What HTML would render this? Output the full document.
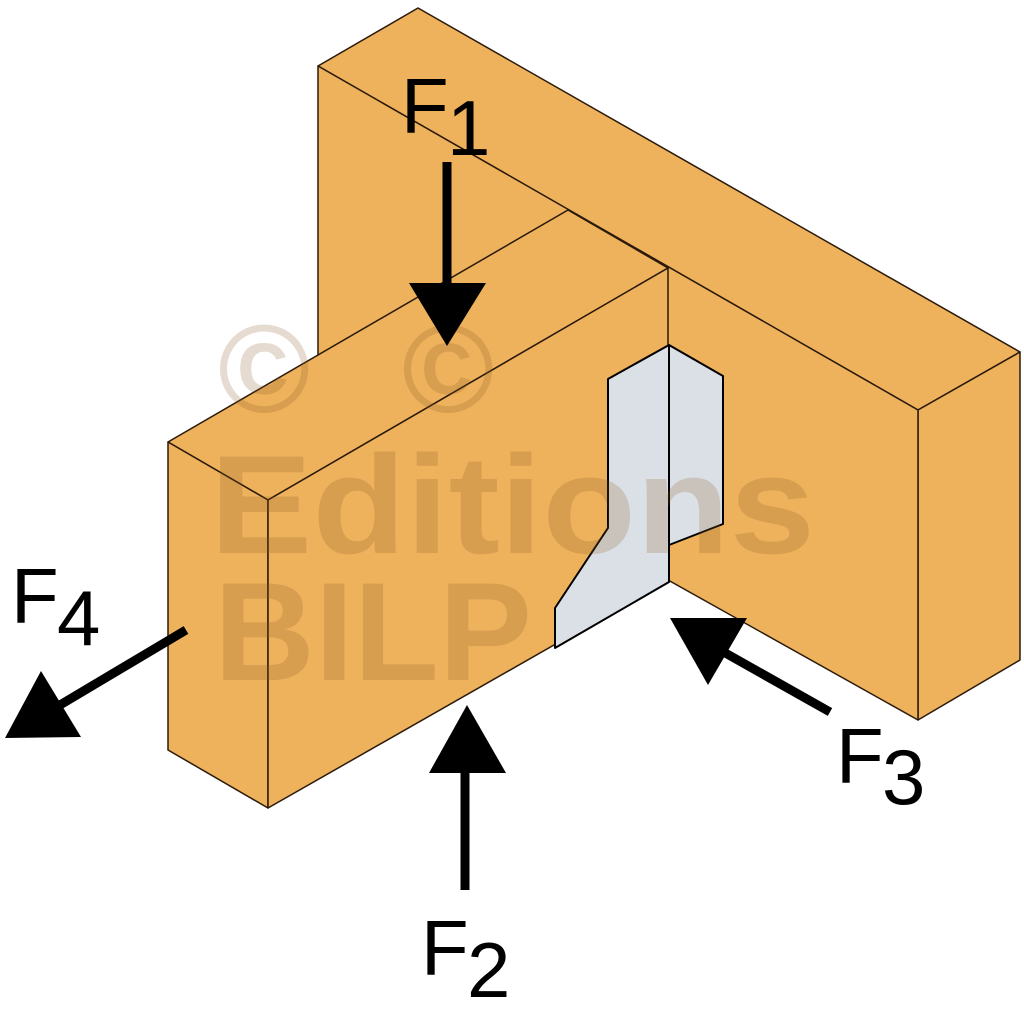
<!DOCTYPE html>
<html><head><style>
html,body{margin:0;padding:0;background:#fff;}
svg{display:block;}
</style></head><body>
<svg width="1024" height="1024" viewBox="0 0 1024 1024" xmlns="http://www.w3.org/2000/svg">
<g fill="#eeb15c" stroke="#2a1a0a" stroke-width="1.5" stroke-linejoin="round">
<polygon points="318,66 418,8 1020,352 918,410"/>
<polygon points="918,410 1020,352 1020,660 918,720"/>
<polygon points="318,66 918,410 918,720 668,580 318,380"/>
<polygon points="168,442 568,210 668,268 268,500"/>
<polygon points="168,442 268,500 268,808 168,750"/>
<polygon points="268,500 668,268 668,580 268,808"/>
</g>
<g fill="#dbe0e6" stroke="#000" stroke-width="2" stroke-linejoin="round">
<polygon points="669,345 723,376 723,524 669,545"/>
<polygon points="669,345 608,379 608,528 555,608 555,648 669,582"/>
</g>
<g fill="#8a5a2a" fill-opacity="0.22" font-family="Liberation Sans, sans-serif" font-weight="bold">
<text x="218" y="412" font-size="125">©</text>
<text x="402" y="412" font-size="125">©</text>
<text x="210" y="553" font-size="140" textLength="605" lengthAdjust="spacingAndGlyphs">Editions</text>
<text x="214" y="680" font-size="140" textLength="318" lengthAdjust="spacingAndGlyphs">BILP</text>
</g>
<g stroke="#000" stroke-width="9">
<line x1="447" y1="162" x2="447" y2="300"/>
<line x1="465" y1="890" x2="465" y2="760"/>
<line x1="830" y1="712" x2="720" y2="650"/>
<line x1="186" y1="630" x2="60" y2="705"/>
</g>
<g fill="#000">
<polygon points="409,283 486,283 447,346"/>
<polygon points="429,773 506,773 467,705"/>
<polygon points="670,618 747,618 708,685"/>
<polygon points="5,738 81,737 41,671"/>
</g>
<g fill="#000" font-family="Liberation Sans, sans-serif" font-size="78">
<text x="401" y="133">F</text><text x="447" y="155">1</text>
<text x="421" y="975">F</text><text x="467" y="997">2</text>
<text x="836" y="783">F</text><text x="882" y="804">3</text>
<text x="11" y="623">F</text><text x="57" y="645">4</text>
</g>
</svg>
</body></html>
